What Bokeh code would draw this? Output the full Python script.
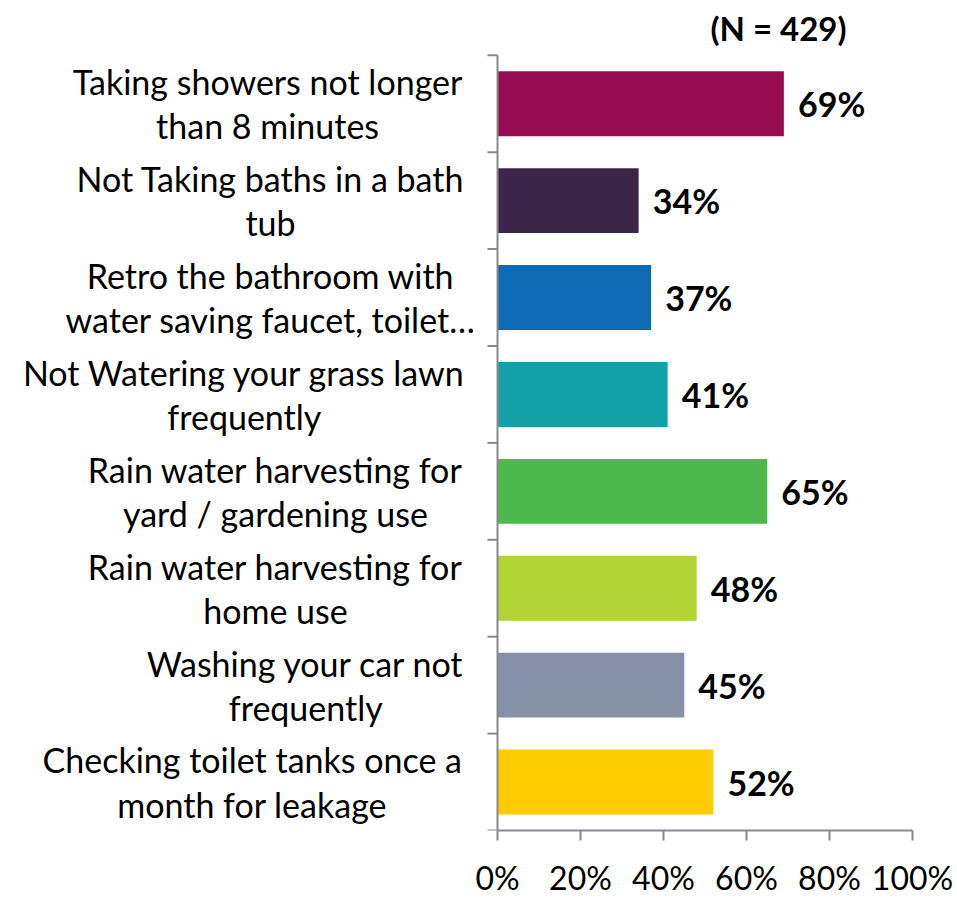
from bokeh.plotting import figure
from bokeh.models import Label, FixedTicker, Range1d, ColumnDataSource
from bokeh.core.properties import value
from bokeh.embed import file_html
from bokeh.resources import INLINE

categories = [
    "Taking showers not longer\nthan 8 minutes",
    "Not Taking baths in a bath\ntub",
    "Retro the bathroom with\nwater saving faucet, toilet\u2026",
    "Not Watering your grass lawn\nfrequently",
    "Rain water harvesting for\nyard / gardening use",
    "Rain water harvesting for\nhome use",
    "Washing your car not\nfrequently",
    "Checking toilet tanks once a\nmonth for leakage",
]
values = [69, 34, 37, 41, 65, 48, 45, 52]
colors = ["#970C53", "#3B2649", "#0F6AB4", "#13A0A8", "#4DB84B", "#B4D335", "#8790A9", "#FFCC00"]
x_ticks = [0, 20, 40, 60, 80, 100]
title_text = "(N = 429)"

# label block centres (data units of the x axis, left of 0)
label_centers = [-55.4, -54.7, -54.7, -61.0, -53.5, -53.5, -46.2, -59.1]

FONT = "Lato"
n = len(categories)
ys = [n - i - 0.5 for i in range(n)]

W, H = 955, 899
PX = 4.15                 # pixels per x unit
X0 = 497                  # canvas x of value 0
TOP, BOT = 55, 833        # canvas y of the category block
band = (BOT - TOP) / n

p = figure(width=W, height=H, output_backend="svg", toolbar_location=None,
           x_range=Range1d(-X0 / PX, (W - X0) / PX),
           y_range=Range1d(0, n + TOP / band),
           min_border_left=0, min_border_right=0, min_border_top=0, min_border_bottom=H - BOT)
p.outline_line_color = None
p.grid.grid_line_color = None
p.yaxis.visible = False

src = ColumnDataSource(dict(y=ys, v=values, c=colors,
                            lab=[f"{v}%" for v in values],
                            lx=[v + 3.4 for v in values]))
p.hbar(y="y", right="v", left=0, height=0.67, fill_color="c", line_color=None, source=src)
p.text(x="lx", y="y", text="lab", source=src, text_font=value(FONT), text_font_style="bold",
       text_font_size="34px", text_baseline="middle", text_align="left", text_color="black")

axis_color = "#898989"
xa = p.xaxis[0]
xa.bounds = (0, 100)
xa.ticker = FixedTicker(ticks=x_ticks)
xa.major_label_overrides = {t: f"{t}%" for t in x_ticks}
xa.axis_line_color = axis_color
xa.axis_line_width = 2
xa.major_tick_line_color = axis_color
xa.major_tick_line_width = 2
xa.major_tick_in = 0
xa.major_tick_out = 10
xa.minor_tick_line_color = None
xa.major_label_text_font = FONT
xa.major_label_text_font_size = "32px"
xa.major_label_text_color = "black"
xa.major_label_standoff = 17

# vertical category axis at x = 0 with outward ticks at band edges
tick_len = 10 / PX
bounds_y = list(range(n + 1))
p.segment(x0=[0], y0=[0], x1=[0], y1=[n], line_color=axis_color, line_width=2)
p.segment(x0=[-tick_len] * len(bounds_y), y0=bounds_y, x1=[0] * len(bounds_y), y1=bounds_y,
          line_color=axis_color, line_width=2)

for cat, y, cx in zip(categories, ys, label_centers):
    p.add_layout(Label(x=cx, y=y, text=cat, text_align="center", text_baseline="middle",
                       text_font=FONT, text_font_size="34px", text_color="black",
                       text_line_height=1.08))

p.add_layout(Label(x=67.7, y=n + 27 / band, text=title_text, text_align="center", text_baseline="middle",
                   text_font=FONT, text_font_style="bold", text_font_size="33px", text_color="black"))

open("out.html", "w").write(file_html(p, INLINE))
